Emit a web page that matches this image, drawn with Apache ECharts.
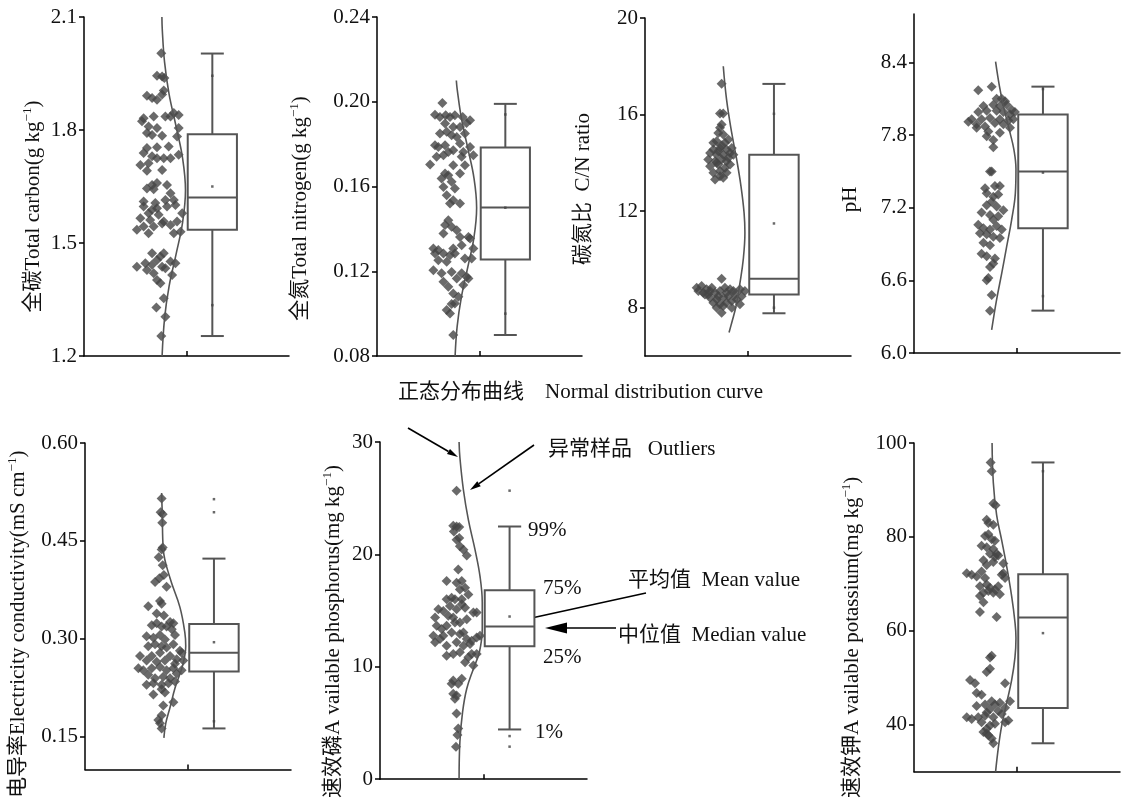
<!DOCTYPE html>
<html><head><meta charset="utf-8">
<script src="https://cdn.jsdelivr.net/npm/echarts@6/dist/echarts.min.js"></script>
<style>html,body{margin:0;padding:0;background:#fff}#c{width:1127px;height:800px}</style>
</head><body><div id="c"></div>
<script>
// ---------- Total carbon ----------
const tcTicks = ['1.2','1.5','1.8','2.1'];
const tcBox = [1.253, 1.535, 1.621, 1.789, 2.003];
const tcDots = [1.650, 1.944, 1.335];
const tcCurve = [[38.1,1.20],[39.3,1.30],[41.5,1.385],[44.9,1.47],[48.1,1.555],[49.5,1.64],[48.1,1.725],[44.9,1.81],[41.5,1.895],[39.3,1.98],[38.2,2.065],[38.0,2.10]];
const tcPoints = [
[37.7,2.004],[35.6,1.944],[38.1,1.942],[39.2,1.938],[38.9,1.905],
[30.7,1.891],[33.2,1.885],[35.6,1.880],[38.1,1.894],
[29.1,1.831],[34.0,1.836],[39.7,1.836],[42.2,1.836],[43.8,1.845],[46.2,1.840],
[28.3,1.823],[31.5,1.809],[35.6,1.805],[46.2,1.805],[45.4,1.783],
[30.7,1.792],[33.2,1.787],[38.1,1.785],
[41.3,1.756],[35.6,1.754],[30.7,1.752],
[29.1,1.739],[33.2,1.730],[35.6,1.725],[38.9,1.725],[42.2,1.725],[46.2,1.734],
[27.5,1.707],[31.5,1.712],[38.1,1.694],[30.7,1.692],
[33.2,1.654],[35.6,1.659],[40.5,1.654],
[30.7,1.645],[34.0,1.643],[42.2,1.632],
[29.1,1.610],[34.8,1.606],[39.7,1.614],[43.8,1.614],
[29.1,1.597],[33.2,1.588],[35.6,1.592],[40.5,1.597],[44.6,1.601],
[31.5,1.579],[36.4,1.575],[47.9,1.579],
[27.5,1.566],[32.3,1.561],[38.9,1.557],[45.4,1.557],[42.2,1.548],
[25.8,1.535],[29.1,1.544],[34.0,1.544],[38.1,1.552],[47.1,1.530],
[31.5,1.526],[43.8,1.526],
[33.2,1.473],[37.3,1.464],[38.9,1.473],
[29.9,1.446],[33.2,1.442],[35.6,1.455],[38.1,1.437],[42.2,1.451],[44.6,1.446],
[25.8,1.437],[30.7,1.428],[39.7,1.433],[43.0,1.415],
[34.0,1.420],[35.6,1.402],[37.3,1.393],
[38.9,1.353],[35.3,1.329],[39.7,1.304],[37.7,1.253]
];
// ---------- Total nitrogen ----------
const tnTicks = ['0.08','0.12','0.16','0.20','0.24'];
const tnBox = [0.0899, 0.1256, 0.1501, 0.1784, 0.199];
const tnDots = [0.150, 0.194, 0.100];
const tnCurve = [[38.1,0.08],[39.1,0.094],[41.2,0.108],[44.3,0.122],[47.3,0.136],[48.6,0.150],[47.3,0.164],[44.3,0.178],[41.2,0.192],[39.1,0.206],[38.7,0.21]];
const tnPoints = [
[31.9,0.1994],[28.3,0.1939],[30.7,0.1928],[33.5,0.1936],[35.6,0.1928],[38.0,0.1936],[41.8,0.1928],[45.4,0.1913],[43.7,0.1900],
[33.2,0.1897],[37.2,0.1881],[40.5,0.1881],[30.7,0.1850],[34.0,0.1858],[36.4,0.1842],[38.9,0.1834],[42.9,0.1850],
[28.3,0.1795],[29.9,0.1787],[33.2,0.1795],[40.5,0.1803],[45.4,0.1787],[34.8,0.1763],[37.2,0.1771],[42.1,0.1763],
[29.1,0.1740],[32.4,0.1748],[41.3,0.1740],[47.0,0.1748],[25.9,0.1704],[37.2,0.1700],[42.9,0.1700],
[33.2,0.1661],[34.8,0.1653],[40.5,0.1661],[31.5,0.1638],[36.4,0.1622],[32.4,0.1598],[38.0,0.1590],
[34.0,0.1559],[35.6,0.1520],[37.2,0.1535],[40.5,0.1520],
[34.8,0.1441],[33.2,0.1418],[36.4,0.1410],[38.9,0.1394],[32.4,0.1378],[40.5,0.1362],[44.6,0.1362],[45.4,0.1355],
[27.5,0.1307],[29.9,0.1300],[37.2,0.1307],[41.3,0.1323],[47.0,0.1307],[35.6,0.1276],[38.0,0.1284],[32.4,0.1284],[28.3,0.1284],
[29.9,0.1252],[34.0,0.1245],[42.9,0.1260],[46.2,0.1260],
[27.5,0.1205],[31.5,0.1190],[36.4,0.1197],[41.3,0.1190],
[32.4,0.1150],[38.9,0.1166],[43.7,0.1174],[34.8,0.1127],[42.1,0.1135],[44.6,0.1166],
[37.2,0.1095],[39.7,0.1080],[36.4,0.1045],[38.0,0.1048],[34.0,0.1017],[35.6,0.1001],[37.2,0.0899]
];
// ---------- C/N ratio ----------
const cnTicks = ['8','12','16','20'];
const cnBox = [7.77, 8.55, 9.20, 14.34, 17.27];
const cnDots = [11.49, 16.03, 8.0];
const cnCurve = [[40.8,6.97],[42.1,7.38],[44.2,8.07],[46.1,9.03],[47.7,10.0],[48.5,11.10],[48.1,11.93],[46.6,13.03],[44.5,14.14],[42.1,15.24],[39.6,16.62],[38.0,18.0]];
const cnPoints = [
[37.2,17.28],[36.4,16.04],[38.0,16.04],[37.2,15.59],[36.4,15.45],[35.6,15.24],[38.0,15.17],
[34.8,14.90],[38.8,14.83],[40.5,14.97],[33.2,14.55],[36.4,14.62],[39.6,14.55],[42.1,14.62],
[31.6,14.41],[34.8,14.34],[38.0,14.34],[41.3,14.41],[30.7,14.14],[34.0,14.07],[37.2,14.14],[40.5,14.21],[42.9,14.34],
[31.6,13.86],[35.6,13.93],[38.8,13.79],[33.2,13.59],[36.4,13.66],[39.6,13.59],[34.0,13.31],[38.0,13.38],
[34.8,14.00],[37.2,14.72],[33.2,14.83],[35.6,14.48],[39.6,14.07],[41.3,13.93],[36.4,13.45],
[37.2,9.20],[25.1,8.83],[27.5,8.90],[29.9,8.76],[32.4,8.83],
[25.9,8.69],[28.3,8.62],[30.7,8.55],[34.0,8.62],[36.4,8.69],[39.6,8.62],[42.9,8.69],[46.1,8.76],[48.5,8.69],
[31.6,8.41],[34.8,8.34],[38.0,8.41],[40.5,8.48],[43.7,8.55],[46.9,8.48],
[33.2,8.21],[36.4,8.14],[39.6,8.21],[42.1,8.28],[34.8,8.00],[38.0,8.07],[46.1,8.14],[37.2,7.79],[42.1,8.00],
[29.1,8.55],[31.6,8.69],[35.6,8.48],[41.3,8.76],[44.5,8.34],[38.8,8.83]
];
// ---------- pH ----------
const phTicks = ['6.0','6.6','7.2','7.8','8.4'];
const phBox = [6.35, 7.03, 7.50, 7.97, 8.20];
const phDots = [7.49, 8.18, 6.47];
const phCurve = [[37.7,6.19],[40.1,6.44],[42.6,6.66],[45.0,6.88],[47.4,7.10],[49.2,7.32],[49.5,7.52],[48.5,7.68],[46.6,7.82],[43.4,8.04],[41.4,8.21],[39.6,8.406]];
const phPoints = [
[31.2,8.17],[37.7,8.20],[40.1,8.10],[42.6,8.10],[44.2,8.08],
[33.7,8.04],[38.5,8.05],[41.7,8.04],[45.0,8.05],[47.4,8.01],
[31.2,7.99],[35.3,8.00],[40.1,8.00],[43.4,7.99],[46.6,7.97],[49.0,7.99],
[28.0,7.93],[32.8,7.93],[36.9,7.94],[41.7,7.93],[45.8,7.92],[48.2,7.93],
[26.4,7.91],[30.4,7.89],[34.5,7.87],[39.3,7.90],[43.4,7.89],
[30.4,7.86],[36.1,7.83],[41.7,7.82],[46.6,7.86],[35.3,7.79],[38.5,7.76],[38.5,7.70],
[37.7,7.50],[36.9,7.50],[34.5,7.36],[39.3,7.38],[41.7,7.38],[35.3,7.32],[38.5,7.29],[40.9,7.31],
[37.7,7.25],[35.3,7.22],[40.1,7.21],[43.4,7.18],[32.8,7.16],[36.9,7.14],[40.9,7.13],[38.5,7.10],
[31.2,7.06],[33.7,7.03],[36.9,7.02],[40.1,7.05],[42.6,7.02],[32.0,6.99],[35.3,6.98],[38.5,6.96],[41.7,6.95],
[33.7,6.91],[36.9,6.89],[32.8,6.82],[35.3,6.80],[39.3,6.78],[38.5,6.74],[36.9,6.71],
[36.1,6.62],[35.3,6.60],[37.7,6.48],[36.9,6.35]
];
// ---------- Electricity conductivity ----------
const ecTicks = ['0.15','0.30','0.45','0.60'];
const ecBox = [0.163, 0.250, 0.279, 0.323, 0.423];
const ecDots = [0.295, 0.514, 0.494, 0.174];
const ecCurve = [[38.3,0.1485],[39.2,0.1707],[41.3,0.1954],[43.7,0.2250],[47.4,0.2596],[48.9,0.2892],[48.5,0.3089],[46.1,0.3484],[41.3,0.3928],[38.0,0.4372],[37.5,0.4915],[37.2,0.5235]];
const ecPoints = [
[37.2,0.515],[36.7,0.494],[37.7,0.491],[37.5,0.478],[37.7,0.440],[37.2,0.437],[35.8,0.425],[37.7,0.413],[38.3,0.398],
[34.0,0.387],[36.1,0.393],[39.6,0.380],[30.7,0.350],[36.4,0.358],[37.2,0.354],
[34.8,0.339],[38.3,0.336],[41.3,0.326],[42.9,0.324],[32.4,0.321],[34.8,0.324],[37.2,0.319],[39.6,0.319],[42.1,0.315],
[29.9,0.304],[33.2,0.302],[36.4,0.306],[38.8,0.299],[43.7,0.306],
[30.7,0.289],[34.0,0.292],[37.2,0.289],[39.6,0.287],[42.9,0.292],[46.1,0.282],
[26.7,0.274],[32.4,0.274],[36.4,0.279],[41.3,0.274],[44.5,0.269],[46.9,0.279],
[29.9,0.267],[34.8,0.265],[38.8,0.267],[43.7,0.262],[47.7,0.267],
[25.9,0.255],[28.3,0.252],[32.4,0.255],[36.4,0.257],[39.6,0.252],[42.9,0.255],[46.9,0.252],
[30.7,0.245],[34.0,0.240],[38.0,0.242],[41.3,0.240],[44.5,0.247],
[29.9,0.230],[33.2,0.232],[37.2,0.230],[40.5,0.232],[43.7,0.235],
[33.2,0.215],[38.8,0.218],[37.2,0.223],[42.9,0.203],[38.0,0.198],[37.2,0.183],[35.6,0.176],[36.4,0.171],[37.2,0.163]
];
// ---------- Available phosphorus ----------
const apTicks = ['0','10','20','30'];
const apBox = [4.42, 11.82, 13.58, 16.80, 22.48];
const apDots = [14.47, 25.67, 3.83, 2.89];
const apCurve = [[38.2,0],[38.6,3.33],[39.9,5.98],[41.9,8.04],[45.1,9.81],[48.0,11.29],[49.4,13.35],[49.4,15.71],[48.3,18.06],[45.9,20.42],[42.7,23.07],[40.3,25.73],[38.6,28.61],[38.2,30]];
const apPoints = [
[37.0,25.67],[35.4,22.54],[37.0,22.48],[38.3,22.43],[35.7,22.04],[37.0,21.31],[38.3,21.45],[38.6,20.72],[40.3,20.42],[41.9,19.89],
[37.8,18.65],[32.2,17.62],[37.0,17.47],[39.5,17.62],[38.6,16.88],[41.1,17.03],[42.7,16.44],
[34.6,16.15],[36.2,16.00],[32.2,16.00],[39.5,16.00],[39.5,15.56],
[28.2,15.12],[26.6,14.38],[30.6,14.97],[33.8,15.41],[37.0,15.12],[41.1,15.26],[45.1,14.82],[46.7,14.82],
[33.0,14.53],[35.4,14.38],[38.6,13.94],[41.9,14.23],
[27.4,13.64],[29.8,13.35],[32.2,13.64],[36.2,13.94],[40.3,13.05],
[25.8,12.76],[30.6,12.76],[34.6,13.05],[38.6,12.91],[26.6,12.17],[29.0,12.46],
[41.9,12.46],[44.3,12.32],[46.7,12.61],[48.3,12.76],[37.0,12.17],[40.3,11.87],[43.5,12.02],[32.2,11.87],
[35.4,11.14],[32.2,10.99],[38.6,11.29],[44.3,11.14],[46.7,11.14],[42.7,10.84],[41.1,10.40],[45.1,10.11],
[39.5,8.93],[35.4,8.78],[34.6,8.49],[37.8,8.49],[35.4,7.60],[37.0,7.45],[36.2,7.16],
[37.0,5.83],[37.8,4.51],[37.4,3.92],[36.7,2.89]
];
// ---------- Available potassium ----------
const akTicks = ['40','60','80','100'];
const akBox = [36.07, 43.59, 62.83, 72.07, 95.86];
const akDots = [59.52, 94.0];
const akCurve = [[39.6,30.0],[40.9,35.0],[42.6,39.9],[45.0,44.7],[47.4,49.5],[49.0,54.3],[49.5,58.5],[49.0,61.9],[47.4,67.4],[45.0,73.7],[42.6,79.2],[40.1,84.7],[38.5,91.6],[37.9,100]];
const akPoints = [
[37.2,95.86],[37.7,94.00],[38.5,87.10],[39.6,86.76],[35.3,83.66],[36.1,82.97],[38.5,82.62],
[36.1,80.55],[34.5,80.21],[37.7,79.52],[39.3,79.17],[32.8,78.14],[35.3,77.79],[38.5,77.45],
[40.1,76.41],[36.9,76.41],[39.3,75.72],[40.9,76.07],[43.4,74.34],[33.7,75.03],[35.3,74.00],[38.5,74.69],
[25.6,72.28],[28.0,71.93],[30.4,71.59],[32.8,72.62],[34.5,71.24],[43.4,72.28],[44.2,71.24],[42.6,71.93],
[32.0,69.52],[35.3,69.86],[36.9,69.17],[39.3,68.83],[40.9,69.52],[33.7,68.14],[36.1,68.48],[38.5,68.14],
[32.0,67.45],[41.7,67.79],[33.7,66.07],[32.0,64.00],[40.1,62.97],
[37.7,54.69],[36.9,54.34],[36.9,51.93],[35.3,51.24],[27.2,49.52],[29.6,48.83],[44.2,48.83],
[30.4,46.76],[32.8,46.41],[34.5,44.34],[37.7,45.03],[39.3,44.34],[41.7,44.69],[46.6,45.03],[44.2,43.66],
[30.4,44.00],[36.9,43.31],[35.3,42.62],[40.9,42.97],
[25.6,41.59],[28.0,41.24],[31.2,41.59],[34.5,41.93],[38.5,41.59],[42.6,42.28],[45.8,40.90],
[32.8,40.55],[36.9,39.86],[39.3,40.21],[44.2,40.55],[35.3,39.17],[36.1,37.79],[37.7,37.10],[38.5,36.07],[33.7,38.48],[35.3,38.14]
];

const SERIF = "'Liberation Serif','Noto Sans CJK SC',serif";
const BOX_X = 62.6, BOX_HALF = 12, CAP_HALF = 5.6;

const panels = [
  {g:[84,17,205,339],  min:1.2, max:2.1, ticks:tcTicks, pts:tcPoints, curve:tcCurve, box:tcBox, dots:tcDots, name:['全碳Total carbon(g kg','−1',')'], gap:39, shift:20},
  {g:[377,17,205,339], min:0.08, max:0.24, ticks:tnTicks, pts:tnPoints, curve:tnCurve, box:tnBox, dots:tnDots, name:['全氮Total nitrogen(g kg','−1',')'], gap:65, shift:22},
  {g:[645,18,206,338], min:6, max:20, ticks:cnTicks, pts:cnPoints, curve:cnCurve, box:cnBox, dots:cnDots, name:['碳氮比  C/N ratio'], gap:50, shift:2},
  {g:[914,14,206,339], min:6.0, max:8.8, ticks:phTicks, pts:phPoints, curve:phCurve, box:phBox, dots:phDots, name:['pH'], gap:52, shift:16},
  {g:[85,443,206,339], min:0.1, max:0.6, ticks:ecTicks, pts:ecPoints, curve:ecCurve, box:ecBox, dots:ecDots, name:['电导率Electricity conductivity(mS cm','−1',')'], gap:55, shift:18},
  {g:[380,442,207,339], min:0, max:30, ticks:apTicks, pts:apPoints, curve:apCurve, box:apBox, dots:apDots, name:['速效磷A vailable phosphorus(mg kg','−1',')'], gap:35, shift:21},
  {g:[914,443,206,338], min:30, max:100, ticks:akTicks, pts:akPoints, curve:akCurve, box:akBox, dots:akDots, name:['速效钾A vailable potassium(mg kg','−1',')'], gap:50, shift:30}
];

function richName(n){
  if(n.length === 1) return '{t|' + n[0] + '}';
  return '{t|' + n[0] + '}{s|' + n[1] + '}{t|' + n[2] + '}';
}

const series = [];
panels.forEach((p,i)=>{
  series.push({type:'scatter', xAxisIndex:i, yAxisIndex:i, data:p.pts, symbol:'diamond', symbolSize:10,
    itemStyle:{color:'#454545'}, z:2, silent:true});
  series.push({type:'line', xAxisIndex:i, yAxisIndex:i, data:p.curve, smooth:0.4, showSymbol:false,
    lineStyle:{color:'#555', width:1.6}, z:3, silent:true});
  series.push({type:'custom', xAxisIndex:i, yAxisIndex:i, data:[[BOX_X].concat(p.box)],
    encode:{x:0, y:[1,2,3,4,5]}, z:4, silent:true,
    renderItem:function(params, api){
      const x = api.value(0), lo = api.value(1), q1 = api.value(2), md = api.value(3), q3 = api.value(4), hi = api.value(5);
      const c = (a,b)=>api.coord([a,b]);
      const st = {stroke:'#555', lineWidth:2, fill:null};
      const seg = (a,b)=>({type:'line', shape:{x1:a[0],y1:a[1],x2:b[0],y2:b[1]}, style:st});
      const tl = c(x-BOX_HALF, q3), br = c(x+BOX_HALF, q1);
      return {type:'group', children:[
        seg(c(x,q3), c(x,hi)), seg(c(x,q1), c(x,lo)),
        seg(c(x-CAP_HALF,hi), c(x+CAP_HALF,hi)), seg(c(x-CAP_HALF,lo), c(x+CAP_HALF,lo)),
        {type:'rect', shape:{x:tl[0], y:tl[1], width:br[0]-tl[0], height:br[1]-tl[1]}, style:{stroke:'#555', lineWidth:2, fill:'#fff'}},
        seg(c(x-BOX_HALF,md), c(x+BOX_HALF,md))
      ]};
    }});
  series.push({type:'scatter', xAxisIndex:i, yAxisIndex:i, data:p.dots.map(v=>[BOX_X, v]), symbol:'rect', symbolSize:2.5,
    itemStyle:{color:'#444'}, z:5, silent:true});
});

const axisLineStyle = {color:'#000', width:1.5};
const option = {
  animation:false,
  backgroundColor:'#fff',
  grid: panels.map(p=>({left:p.g[0], top:p.g[1], width:p.g[2], height:p.g[3]})),
  xAxis: panels.map((p,i)=>({gridIndex:i, type:'value', min:0, max:100,
    axisLine:{show:true, onZero:false, lineStyle:axisLineStyle},
    axisTick:{show:true, inside:true, length:5, customValues:[50], lineStyle:axisLineStyle},
    axisLabel:{show:false}, splitLine:{show:false}})),
  yAxis: panels.map((p,i)=>({gridIndex:i, type:'value', min:p.min, max:p.max,
    name: richName(p.name), nameLocation:'middle', nameGap:p.gap,
    nameTextStyle:{padding:[0, 2*p.shift, 0, 0],
      rich:{t:{fontSize:21, fontFamily:SERIF, color:'#111', lineHeight:24},
            s:{fontSize:13, fontFamily:SERIF, color:'#111', lineHeight:13, verticalAlign:'top'}}},
    axisLine:{show:true, onZero:false, lineStyle:axisLineStyle},
    axisTick:{show:true, length:5, customValues:p.ticks.map(Number), lineStyle:axisLineStyle},
    axisLabel:{customValues:p.ticks.map(Number), fontSize:21, fontFamily:SERIF, color:'#111', margin:7,
      formatter:function(v){ const t = p.ticks.find(s=>Math.abs(Number(s)-v)<1e-9); return t === undefined ? '' : t; }},
    splitLine:{show:false}})),
  series: series,
  graphic: []
};

// annotations
function txt(s, x, y){
  return {type:'text', x:x, y:y, silent:true, style:{text:s, fontSize:21, fontFamily:SERIF, fill:'#111', verticalAlign:'middle', align:'left'}};
}
function arrow(x1,y1,x2,y2,len,w){
  const a = Math.atan2(y2-y1, x2-x1);
  const bx = x2 - len*Math.cos(a), by = y2 - len*Math.sin(a);
  const nx = -Math.sin(a)*w/2, ny = Math.cos(a)*w/2;
  return [
    {type:'line', silent:true, shape:{x1:x1,y1:y1,x2:bx,y2:by}, style:{stroke:'#000', lineWidth:1.6}},
    {type:'polygon', silent:true, shape:{points:[[x2,y2],[bx+nx,by+ny],[bx-nx,by-ny]]}, style:{fill:'#000'}}
  ];
}
option.graphic = [
  txt('正态分布曲线    Normal distribution curve', 398, 392),
  txt('异常样品   Outliers', 548, 449),
  txt('99%', 528, 530),
  txt('75%', 543, 588),
  txt('25%', 543, 657),
  txt('1%', 535, 732),
  txt('平均值  Mean value', 628, 580),
  txt('中位值  Median value', 618, 635)
].concat(arrow(408,428,458,457,11,6), arrow(534,445,470,490,11,6), arrow(646,593,522,620,11,6), arrow(616,628,545,628,22,11));

const chart = echarts.init(document.getElementById('c'), null, {renderer:'canvas'});
chart.setOption(option);
</script>
</body></html>
